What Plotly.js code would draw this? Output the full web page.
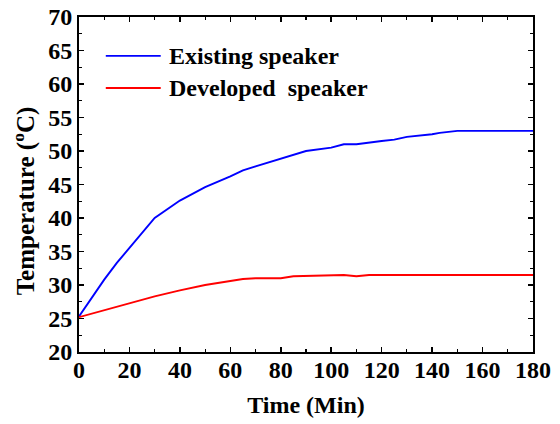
<!DOCTYPE html>
<html>
<head>
<meta charset="utf-8">
<script src="https://cdn.plot.ly/plotly-3.0.1.min.js"></script>
<style>html,body{margin:0;padding:0;background:#fff;}#chart{width:560px;height:424px;}</style>
</head>
<body>
<div id="chart"></div>
<script>
// Existing speaker (blue)
const existingTime = [0, 5, 10, 15, 20, 25, 30, 40, 50, 60, 65, 70, 80, 90, 100, 105, 110, 115, 120, 125, 130, 140, 143, 150, 160, 170, 180];
const existingTemp = [25.3, 28, 30.8, 33.3, 35.5, 37.8, 40, 42.6, 44.6, 46.2, 47.1, 47.7, 48.9, 50.0, 50.5, 51.0, 51.0, 51.3, 51.5, 51.7, 52.1, 52.5, 52.7, 53.0, 53.0, 53.0, 53.0];
// Developed speaker (red)
const developedTime = [0, 15, 30, 40, 50, 60, 65, 70, 80, 85, 95, 105, 110, 115, 125, 140, 160, 180];
const developedTemp = [25.2, 26.8, 28.3, 29.2, 30.0, 30.6, 30.9, 31.0, 31.0, 31.3, 31.4, 31.5, 31.3, 31.5, 31.5, 31.5, 31.5, 31.5];

// Tick labels
const xTickVals = [0, 20, 40, 60, 80, 100, 120, 140, 160, 180];
const xTickLabels = ['0', '20', '40', '60', '80', '100', '120', '140', '160', '180'];
const yTickVals = [20, 25, 30, 35, 40, 45, 50, 55, 60, 65, 70];
const yTickLabels = ['20', '25', '30', '35', '40', '45', '50', '55', '60', '65', '70'];

const seriesNames = ['Existing speaker', 'Developed&nbsp; speaker'];
const seriesColors = ['#0000ff', '#ff0000'];
const xTitle = 'Time (Min)';
const yTitle = 'Temperature (<sup>o</sup>C)';

const font = 'Liberation Serif, Times New Roman, serif';
const bold = s => '<b>' + s + '</b>';

const traces = [
  {x: existingTime, y: existingTemp, type: 'scatter', mode: 'lines', name: 'Existing speaker',
   line: {color: seriesColors[0], width: 1.9}},
  {x: developedTime, y: developedTemp, type: 'scatter', mode: 'lines', name: 'Developed speaker',
   line: {color: seriesColors[1], width: 1.9}}
];

const axisCommon = {
  showgrid: false, zeroline: false, showline: true, linecolor: '#000', linewidth: 2,
  mirror: 'ticks', ticks: 'inside', ticklen: 5, tickwidth: 1.5, tickcolor: '#000',
  tickmode: 'array',
  tickfont: {family: font, size: 24, color: '#000'}
};

const shapes = [];
const annotations = [];
const legendY = [0.884, 0.788];
seriesNames.forEach((n, i) => {
  shapes.push({type: 'line', xref: 'paper', yref: 'paper', x0: 0.059, x1: 0.18, y0: legendY[i], y1: legendY[i],
    line: {color: seriesColors[i], width: 1.9}});
  annotations.push({xref: 'paper', yref: 'paper', x: 0.193, y: legendY[i], xanchor: 'left', yanchor: 'middle',
    text: bold(n), showarrow: false, font: {family: font, size: 24, color: '#000'}});
});
// y-axis title (placed slightly below the plot centre, as in the reference)
annotations.push({xref: 'paper', yref: 'paper', x: -0.121, y: 0.45, xanchor: 'center', yanchor: 'middle',
  textangle: -90, text: bold(yTitle), showarrow: false, font: {family: font, size: 25, color: '#000'}});

const layout = {
  width: 560, height: 424,
  margin: {l: 79, r: 27, t: 17, b: 72},
  paper_bgcolor: '#fff', plot_bgcolor: '#fff',
  showlegend: false,
  xaxis: Object.assign({}, axisCommon, {
    range: [0, 180],
    tickvals: xTickVals, ticktext: xTickLabels.map(bold),
    ticklabelstandoff: -5,
    minor: {dtick: 10, tick0: 0, ticklen: 3, tickwidth: 1.2, tickcolor: '#000', ticks: 'inside'},
    title: {text: bold(xTitle), standoff: 14, font: {family: font, size: 24, color: '#000'}}
  }),
  yaxis: Object.assign({}, axisCommon, {
    range: [20, 70],
    tickvals: yTickVals, ticktext: yTickLabels.map(bold),
    minor: {dtick: 2.5, tick0: 20, ticklen: 3, tickwidth: 1.2, tickcolor: '#000', ticks: 'inside'}
  }),
  shapes: shapes,
  annotations: annotations
};

Plotly.newPlot('chart', traces, layout, {displayModeBar: false, staticPlot: true});
</script>
</body>
</html>
